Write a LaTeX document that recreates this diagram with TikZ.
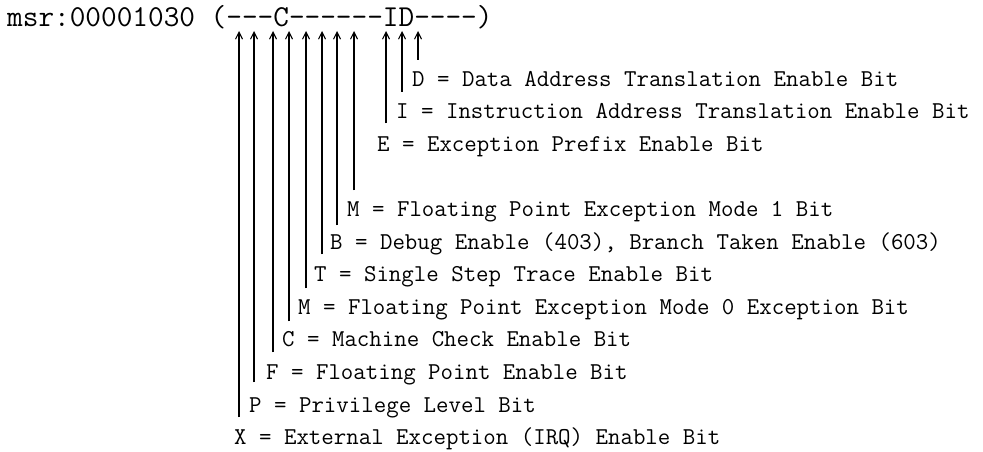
\documentclass[tikz,border=0pt]{standalone}
\usetikzlibrary{arrows.meta}

\begin{document}
\begin{tikzpicture}[
    x=1pt,
    y=-1pt,
    reg/.style={anchor=base west, inner sep=0pt, font=\ttfamily\fontsize{30.4}{34}\selectfont},
    lbl/.style={anchor=base west, inner sep=0pt, font=\ttfamily\fontsize{24.2}{28}\selectfont},
    shaft/.style={-{Straight Barb[length=7pt, width=7pt, line width=1.1pt]}, line width=1.1pt},
    bar/.style={line width=2pt}
]
\useasboundingbox (0,0) rectangle (983,452);
\node[reg] (msr) at (7,27) {msr:00001030 (---C------ID----)};

% arrow tips under the register string
\coordinate (tee) at (239,31);
\coordinate (tpr) at (254,31);
\coordinate (tfp) at (273,31);
\coordinate (tme) at (289,31);
\coordinate (tfe0) at (306,31);
\coordinate (tse) at (322,31);
\coordinate (tbe) at (337,31);
\coordinate (tfe1) at (354,31);
\coordinate (tip) at (386,31);
\coordinate (tir) at (402,31);
\coordinate (tdr) at (418,31);

% arrow feet
\coordinate (fee) at (239,417);
\coordinate (fpr) at (254,382);
\coordinate (ffp) at (273,352);
\coordinate (fme) at (289,321);
\coordinate (ffe0) at (306,288);
\coordinate (fse) at (322,254);
\coordinate (fbe) at (337,225);
\coordinate (ffe1) at (354,190);
\coordinate (fip) at (386,123);
\coordinate (fir) at (402,92);
\coordinate (fdr) at (418,60);

\node[lbl] (dr) at (412,86) {D = Data Address Translation Enable Bit};
\node[lbl] (ir) at (396,118.6) {I = Instruction Address Translation Enable Bit};
\node[lbl] (ip) at (377,151.2) {E = Exception Prefix Enable Bit};
\node[lbl] (fe1) at (347,216.4) {M = Floating Point Exception Mode 1 Bit};
\node[lbl] (be) at (330,249) {B = Debug Enable (403), Branch Taken Enable (603)};
\node[lbl] (se) at (314,281.6) {T = Single Step Trace Enable Bit};
\node[lbl] (fe0) at (298,314.2) {M = Floating Point Exception Mode 0 Exception Bit};
\node[lbl] (me) at (282,346.8) {C = Machine Check Enable Bit};
\node[lbl] (fp) at (266,379.4) {F = Floating Point Enable Bit};
\node[lbl] (pr) at (249,412) {P = Privilege Level Bit};
\node[lbl] (ee) at (234,444.6) {X = External Exception (IRQ) Enable Bit};

\draw[shaft] (fee) -- (tee);
\draw[shaft] (fpr) -- (tpr);
\draw[shaft] (ffp) -- (tfp);
\draw[shaft] (fme) -- (tme);
\draw[shaft] (ffe0) -- (tfe0);
\draw[shaft] (fse) -- (tse);
\draw[shaft] (fbe) -- (tbe);
\draw[shaft] (ffe1) -- (tfe1);
\draw[shaft] (fip) -- (tip);
\draw[shaft] (fir) -- (tir);
\draw[shaft] (fdr) -- (tdr);

\draw[bar] (fee) -- ([yshift=-12pt]tee);
\draw[bar] (fpr) -- ([yshift=-12pt]tpr);
\draw[bar] (ffp) -- ([yshift=-12pt]tfp);
\draw[bar] (fme) -- ([yshift=-12pt]tme);
\draw[bar] (ffe0) -- ([yshift=-12pt]tfe0);
\draw[bar] (fse) -- ([yshift=-12pt]tse);
\draw[bar] (fbe) -- ([yshift=-12pt]tbe);
\draw[bar] (ffe1) -- ([yshift=-12pt]tfe1);
\draw[bar] (fip) -- ([yshift=-12pt]tip);
\draw[bar] (fir) -- ([yshift=-12pt]tir);
\draw[bar] (fdr) -- ([yshift=-12pt]tdr);
\end{tikzpicture}
\end{document}
